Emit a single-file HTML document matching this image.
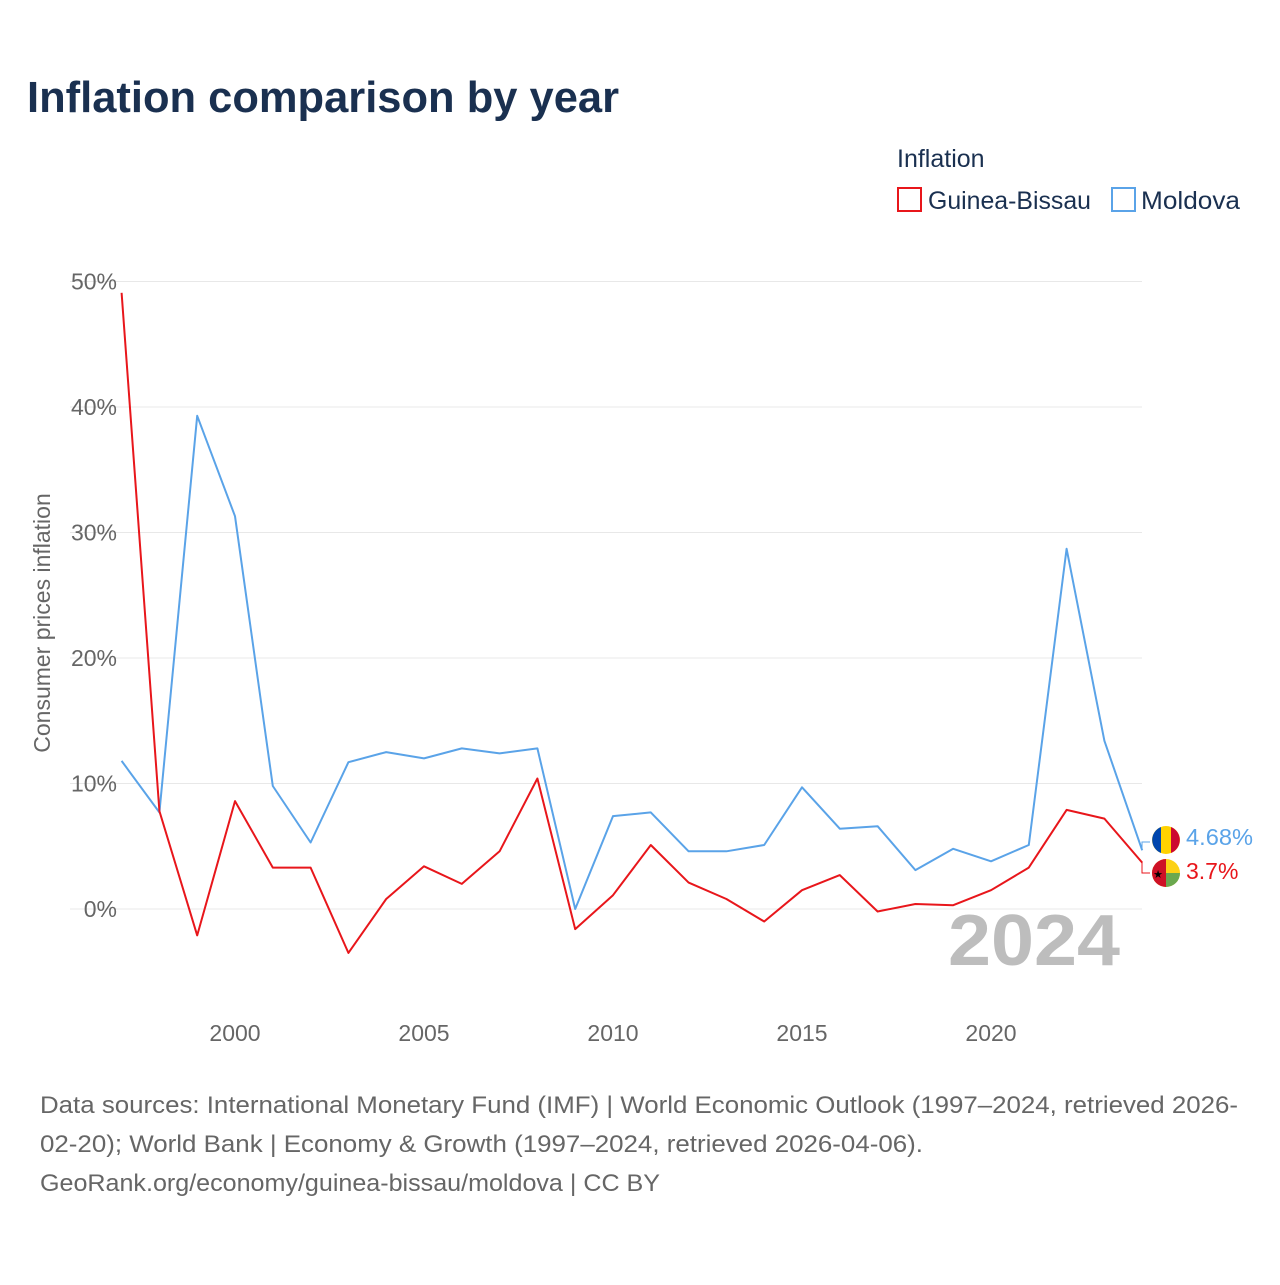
<!DOCTYPE html>
<html><head><meta charset="utf-8"><style>
body{margin:0;background:#fff;font-family:"Liberation Sans",sans-serif;}
svg text{font-family:"Liberation Sans",sans-serif;}
</style></head><body>
<svg width="1280" height="1280" xmlns="http://www.w3.org/2000/svg" id="chart">
<text x="27" y="112" font-size="44" font-weight="bold" fill="#1a3050" textLength="592" lengthAdjust="spacingAndGlyphs">Inflation comparison by year</text>
<text x="897" y="167" font-size="25" fill="#1a3050">Inflation</text>
<g><rect x="898" y="188" width="23" height="23" fill="none" stroke="#e8161b" stroke-width="2"/><text x="928" y="209" font-size="25" fill="#1a3050" textLength="163" lengthAdjust="spacingAndGlyphs">Guinea-Bissau</text></g>
<g><rect x="1112" y="188" width="23" height="23" fill="none" stroke="#5aa3e8" stroke-width="2"/><text x="1141" y="209" font-size="25" fill="#1a3050" textLength="99" lengthAdjust="spacingAndGlyphs">Moldova</text></g>
<text transform="translate(50,623) rotate(-90)" text-anchor="middle" font-size="23" fill="#666">Consumer prices inflation</text>
<g id="grid"></g><g id="yt"></g><g id="xt"></g>
<text x="1120" y="965" text-anchor="end" font-size="72" font-weight="bold" fill="#bdbdbd" textLength="172" lengthAdjust="spacingAndGlyphs">2024</text>
<g id="series"></g>
<path d="M1142 850 V842 H1150" fill="none" stroke="#5aa3e8" stroke-width="1"/>
<path d="M1142 862 V873 H1150" fill="none" stroke="#e8161b" stroke-width="1"/>
<g><circle cx="1166" cy="840" r="14" fill="#ffd200"/><path d="M1161 827 a14 14 0 0 0 0 26 z" fill="#0046ae"/><path d="M1171 827 a14 14 0 0 1 0 26 z" fill="#cc092f"/></g>
<g><circle cx="1166" cy="873" r="14" fill="#fcd116"/><path d="M1166 873 h14 a14 14 0 0 1 -14 14 z" fill="#6aa84f"/><path d="M1166 859 v28 a14 14 0 0 1 0 -28 z" fill="#ce1126"/><text x="1158" y="878" font-size="11" fill="#000" text-anchor="middle">★</text></g>
<text x="1186" y="845" font-size="23" fill="#5aa3e8" textLength="67" lengthAdjust="spacingAndGlyphs">4.68%</text>
<text x="1186" y="879" font-size="23" fill="#e8161b">3.7%</text>
<text font-size="24" fill="#666"><tspan x="40" y="1113" textLength="1198" lengthAdjust="spacingAndGlyphs">Data sources: International Monetary Fund (IMF) | World Economic Outlook (1997–2024, retrieved 2026-</tspan><tspan x="40" y="1152" textLength="883" lengthAdjust="spacingAndGlyphs">02-20); World Bank | Economy &amp; Growth (1997–2024, retrieved 2026-04-06).</tspan><tspan x="40" y="1191" textLength="620" lengthAdjust="spacingAndGlyphs">GeoRank.org/economy/guinea-bissau/moldova | CC BY</tspan></text>
</svg>
<script>
const years=[1997,1998,1999,2000,2001,2002,2003,2004,2005,2006,2007,2008,2009,2010,2011,2012,2013,2014,2015,2016,2017,2018,2019,2020,2021,2022,2023,2024];
const guineaBissau=[49.1,7.8,-2.1,8.6,3.3,3.3,-3.5,0.8,3.4,2.0,4.6,10.4,-1.6,1.1,5.1,2.1,0.8,-1.0,1.5,2.7,-0.2,0.4,0.3,1.5,3.3,7.9,7.2,3.7];
const moldova=[11.8,7.7,39.3,31.3,9.8,5.3,11.7,12.5,12.0,12.8,12.4,12.8,0.0,7.4,7.7,4.6,4.6,5.1,9.7,6.4,6.6,3.1,4.8,3.8,5.1,28.7,13.4,4.68];
const yTicks=[0,10,20,30,40,50];
const xTicks=[2000,2005,2010,2015,2020];
const NS="http://www.w3.org/2000/svg";
const xs=y=>121.6+(y-1997)*37.8;
const ys=v=>909-v*12.55;
function mk(t,a,p){const e=document.createElementNS(NS,t);for(const k in a)e.setAttribute(k,a[k]);p.appendChild(e);return e;}
const grid=document.getElementById('grid'),yt=document.getElementById('yt'),xt=document.getElementById('xt'),ser=document.getElementById('series');
yTicks.forEach(v=>{
 const l=mk('line',{x1:70,x2:1142,y1:ys(v),y2:ys(v),stroke:'#e8e8e8','stroke-width':1},grid);
 
 
 const t=mk('text',{x:117,y:ys(v)+8,'text-anchor':'end','font-size':23,fill:'#666'},yt);
 t.textContent=v+'%';
 
 
});
xTicks.forEach(v=>{
 const t=mk('text',{x:xs(v),y:1041,'text-anchor':'middle','font-size':23,fill:'#666'},xt);
 t.textContent=v;
 
 
});
function line(vals,color,name){
 const d=vals.map((v,i)=>(i?'L':'M')+xs(years[i]).toFixed(1)+' '+ys(v).toFixed(1)).join(' ');
 const p=mk('path',{d:d,fill:'none',stroke:color,'stroke-width':2,'stroke-linejoin':'round'},ser);
 
 
}
line(moldova,'#5aa3e8','moldova-line');
line(guineaBissau,'#e8161b','guinea-bissau-line');
</script>
</body></html>
